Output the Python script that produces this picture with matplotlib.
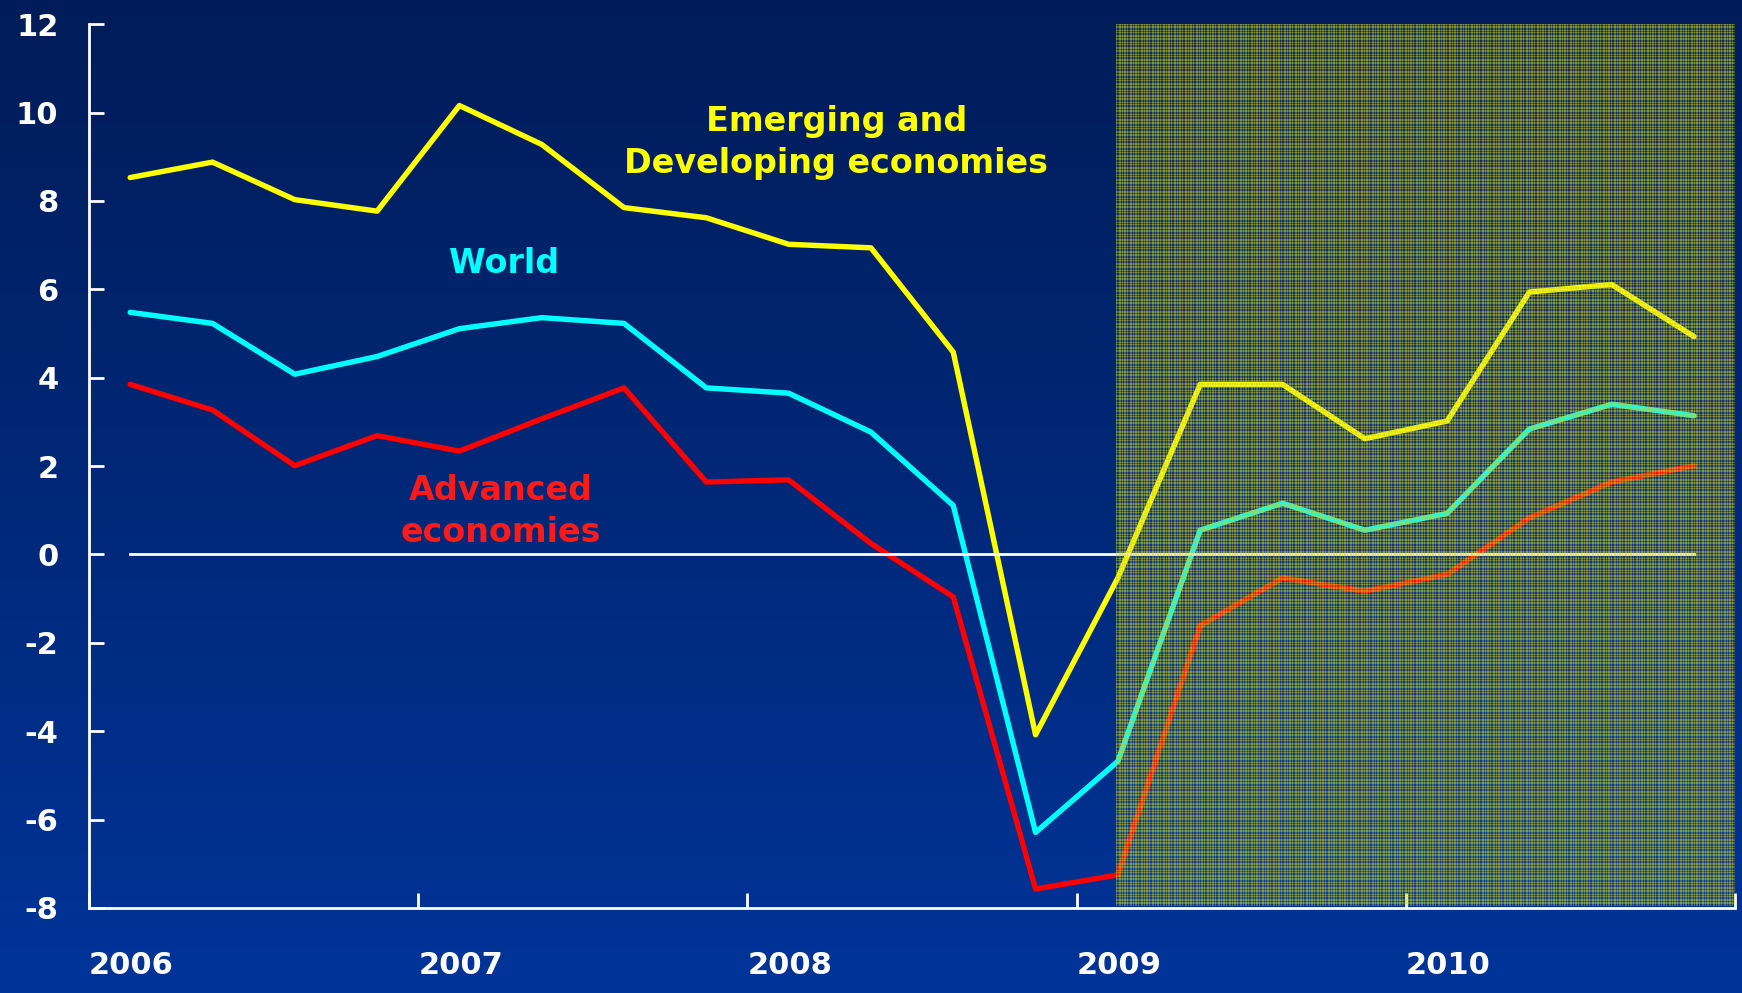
import matplotlib.pyplot as plt
import numpy as np

plt.rcParams["axes.unicode_minus"] = False

# quarterly data, 2006Q1 .. 2010Q4
quarters = np.arange(2006.125, 2011.0, 0.25)

emerging = [8.53, 8.88, 8.03, 7.77, 10.16, 9.28, 7.85, 7.62, 7.02, 6.94,
            4.58, -4.08, -0.53, 3.85, 3.85, 2.62, 3.02, 5.94, 6.11, 4.93]
world = [5.48, 5.23, 4.08, 4.48, 5.11, 5.36, 5.23, 3.77, 3.65, 2.77,
         1.11, -6.29, -4.68, 0.55, 1.16, 0.55, 0.93, 2.84, 3.40, 3.14]
advanced = [3.85, 3.27, 2.01, 2.69, 2.34, 3.07, 3.77, 1.64, 1.69, 0.25,
            -0.96, -7.57, -7.25, -1.61, -0.53, -0.83, -0.45, 0.83, 1.64, 2.01]

year_ticks = [2006, 2007, 2008, 2009, 2010, 2011]
year_labels = ["2006", "2007", "2008", "2009", "2010", ""]
y_ticks = [-8, -6, -4, -2, 0, 2, 4, 6, 8, 10, 12]

forecast_start = 2009.12

fig = plt.figure(figsize=(17.42, 9.93), dpi=100)

# vertical blue gradient behind everything
bg = fig.add_axes([0, 0, 1, 1], zorder=-10)
grad = np.linspace(0, 1, 256).reshape(-1, 1)
top = np.array([0, 28, 88]) / 255
bot = np.array([0, 52, 153]) / 255
img = top + (bot - top) * grad[..., None]
bg.imshow(img, aspect="auto", extent=[0, 1, 0, 1])
bg.axis("off")

ax = fig.add_axes([0.0511, 0.0856, 0.945, 0.890])
ax.patch.set_visible(False)

ax.plot(quarters, emerging, color="#ffff00", lw=3.9, solid_capstyle="round", zorder=3)
ax.plot(quarters, world, color="#00ffff", lw=3.9, solid_capstyle="round", zorder=3)
ax.plot(quarters, advanced, color="#ff0000", lw=3.9, solid_capstyle="round", zorder=3)
ax.plot([quarters[0], quarters[-1]], [0, 0], color="white", lw=2, zorder=3)

# projection shading: fine yellow plaid laid over the lines
h, w = 882, 619
row_stripe = np.array([1, 0, 1, 1, 0, 0, 1, 0, 1, 0, 0, 1])
col_stripe = np.array([1, 0, 0, 1, 1, 0, 1, 0, 1, 1, 0])
rows = row_stripe[np.arange(h) % len(row_stripe)][:, None]
cols = col_stripe[np.arange(w) % len(col_stripe)][None, :]
weight = (rows + cols) / 2.0
plaid = np.zeros((h, w, 4))
plaid[..., 0] = 0.80
plaid[..., 1] = 0.82
plaid[..., 2] = 0.15
plaid[..., 3] = 0.08 + 0.58 * weight
ax.imshow(plaid, extent=[forecast_start, 2011, -7.95, 12], aspect="auto",
          interpolation="nearest", zorder=4)

ax.set_xlim(2006, 2011)
ax.set_ylim(-8, 12)
ax.set_xticks(year_ticks)
ax.set_xticklabels(year_labels)
ax.set_yticks(y_ticks)

for s in ["top", "right"]:
    ax.spines[s].set_visible(False)
for s in ["left", "bottom"]:
    ax.spines[s].set_color("white")
    ax.spines[s].set_linewidth(2)

ax.tick_params(axis="both", direction="in", colors="white", length=11, width=2,
               labelsize=22)
ax.tick_params(axis="y", pad=22)
ax.tick_params(axis="x", pad=31)
for lab in ax.get_xticklabels():
    lab.set_horizontalalignment("left")
    lab.set_fontweight("bold")
for lab in ax.get_yticklabels():
    lab.set_fontweight("bold")

ax.text(2008.27, 9.33, "Emerging and\nDeveloping economies", color="#ffff00",
        fontsize=24, fontweight="bold", ha="center", va="center",
        linespacing=1.35, zorder=5)
ax.text(2007.26, 6.59, "World", color="#00ffff", fontsize=24,
        fontweight="bold", ha="center", va="center", zorder=5)
ax.text(2007.25, 0.98, "Advanced\neconomies", color="#ff1a1a", fontsize=24,
        fontweight="bold", ha="center", va="center", linespacing=1.35,
        zorder=5)

fig.savefig("out.png", dpi=100)
